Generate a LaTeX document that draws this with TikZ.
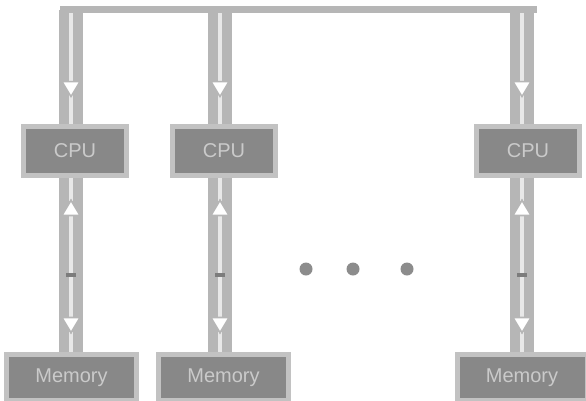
\documentclass[tikz,border=0pt]{standalone}
\usepackage{fontspec}
\setmainfont{Liberation Sans}
\usetikzlibrary{decorations.markings}
\definecolor{boxfill}{HTML}{888888}
\definecolor{boxline}{HTML}{C2C2C2}
\definecolor{txt}{HTML}{CACACA}
\definecolor{wire}{HTML}{B6B6B6}
\definecolor{wirein}{HTML}{E8E8E8}
\definecolor{dotc}{HTML}{8C8C8C}
\tikzset{
  unitbox/.style={draw=boxline, fill=boxfill, line width=5pt, text=txt,
    font=\fontsize{20}{22}\selectfont, inner sep=0pt, anchor=center},
  cpubox/.style={unitbox, minimum width=103pt, minimum height=49pt},
  membox/.style={unitbox, minimum width=130pt, minimum height=46pt},
  busline/.style={draw=wire, line width=7pt},
  tipdown/.style={decoration={markings, mark=at position #1 with {
      \draw[fill=white, draw=wire, line width=1.5pt] (5pt,0) -- (-10pt,9pt) -- (-10pt,-9pt) -- cycle;}},
      postaction={decorate}},
  tipup/.style={decoration={markings, mark=at position #1 with {
      \draw[fill=white, draw=wire, line width=1.5pt] (-5pt,0) -- (10pt,9pt) -- (10pt,-9pt) -- cycle;}},
      postaction={decorate}},
  tick/.style={decoration={markings, mark=at position #1 with {
      \draw[draw=boxfill!110, line width=4pt] (0,-5pt) -- (0,5pt);}},
      postaction={decorate}},
  wireline/.style={draw=wire, line width=10pt, double=wirein, double distance=4pt},
  dotn/.style={circle, fill=dotc, minimum size=13pt, inner sep=0pt},
}
\begin{document}
\begin{tikzpicture}[x=1pt, y=-1pt]
\useasboundingbox (0,0) rectangle (586,400);
% bus coordinates
\coordinate (bl) at (60,9.5);
\coordinate (br) at (537,9.5);
\coordinate (b1) at (71,9.5);
\coordinate (b2) at (220,9.5);
\coordinate (b3) at (522,9.5);
% CPUs
\node[cpubox] (cpu1) at (75,150.5) {CPU};
\node[cpubox] (cpu2) at (224,150.5) {CPU};
\node[cpubox] (cpu3) at (528,150.5) {CPU};
% Memories
\node[membox] (mem1) at (71.5,377.5) {Memory};
\node[membox] (mem2) at (223.5,377.5) {Memory};
\node[membox] (mem3) at (522,377.5) {Memory};
% dots
\node[dotn] (d1) at (306,269) {};
\node[dotn] (d2) at (353,269) {};
\node[dotn] (d3) at (407,269) {};
% bus to CPU
\draw[wireline, tipdown=0.72] (b1) -- (b1 |- cpu1.north);
\draw[wireline, tipdown=0.72] (b2) -- (b2 |- cpu2.north);
\draw[wireline, tipdown=0.72] (b3) -- (b3 |- cpu3.north);
% bus
\draw[busline] (bl) -- (br);
% CPU to memory
\draw[wireline, tipup=0.16, tick=0.56, tipdown=0.86] (b1 |- cpu1.south) -- (b1 |- mem1.north);
\draw[wireline, tipup=0.16, tick=0.56, tipdown=0.86] (b2 |- cpu2.south) -- (b2 |- mem2.north);
\draw[wireline, tipup=0.16, tick=0.56, tipdown=0.86] (b3 |- cpu3.south) -- (b3 |- mem3.north);
\end{tikzpicture}
\end{document}
